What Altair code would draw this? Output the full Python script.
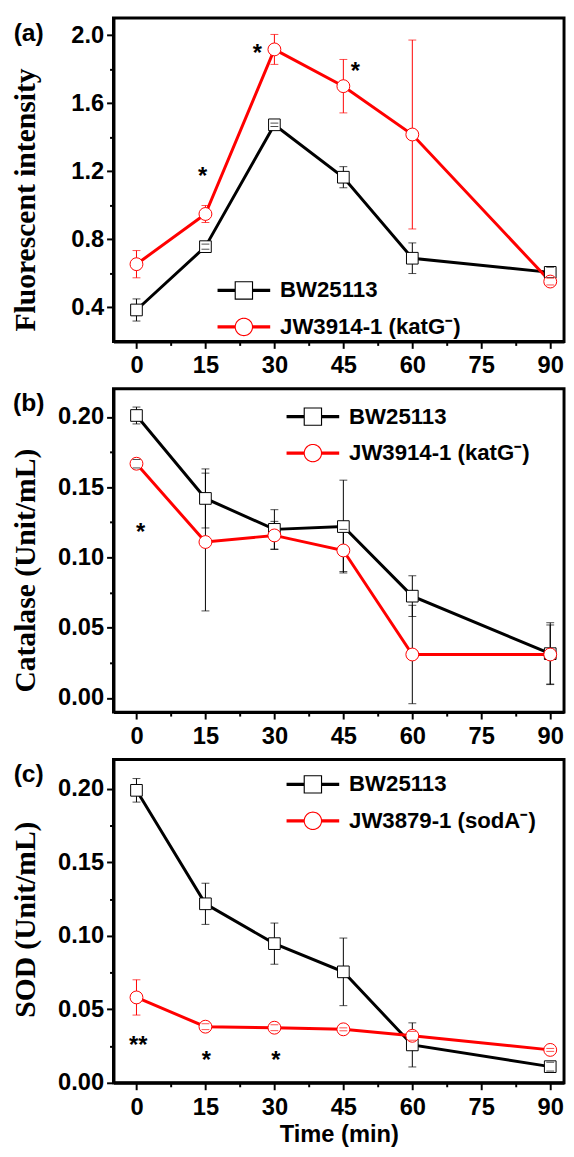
import json
import numpy as np
import pandas as pd
import altair as alt

# ---------------- data ----------------
time_min = [0, 15, 30, 45, 60, 90]

names_a = ["BW25113", "JW3914-1 (katG⁻)"]
names_b = ["BW25113", "JW3914-1 (katG⁻)"]
names_c = ["BW25113", "JW3879-1 (sodA⁻)"]

# (a) Fluorescent intensity
a_bw = [0.385, 0.757, 1.473, 1.165, 0.689, 0.606]
a_bw_err = [0.065, 0.015, 0.010, 0.062, 0.090, 0.030]
a_jw = [0.654, 0.949, 1.916, 1.700, 1.416, 0.552]
a_jw_err = [0.080, 0.050, 0.088, 0.157, 0.555, 0.020]

# (b) Catalase (Unit/mL)
b_bw = [0.201, 0.142, 0.120, 0.122, 0.0725, 0.0316]
b_bw_err = [0.006, 0.021, 0.014, 0.033, 0.0145, 0.022]
b_jw = [0.1667, 0.111, 0.1157, 0.105, 0.031, 0.031]
b_jw_err = [0.003, 0.049, 0.010, 0.015, 0.035, 0.021]

# (c) SOD (Unit/mL)
c_bw = [0.199, 0.1218, 0.0947, 0.0755, 0.0258, 0.011]
c_bw_err = [0.008, 0.014, 0.014, 0.023, 0.015, 0.003]
c_jw = [0.0581, 0.0382, 0.0375, 0.0364, 0.032, 0.0224]
c_jw_err = [0.012, 0.002, 0.002, 0.001, 0.003, 0.001]

# significance marks
a_star_x = [14.4, 26.3, 47.6]
a_star_y = [1.175, 1.899, 1.793]
a_star_t = ["*", "*", "*"]
b_star_x = [0.9]
b_star_y = [0.1187]
b_star_t = ["*"]
c_star_x = [0.4, 15.2, 30.3]
c_star_y = [0.0264, 0.0163, 0.0163]
c_star_t = ["**", "*", "*"]

# axis ticks
x_major = [0, 15, 30, 45, 60, 75, 90]
x_minor = [7.5, 22.5, 37.5, 52.5, 67.5, 82.5]
a_major = [0.4, 0.8, 1.2, 1.6, 2.0]
a_minor = [0.6, 1.0, 1.4, 1.8]
bc_major = [0.0, 0.05, 0.1, 0.15, 0.2]
bc_minor = [0.025, 0.075, 0.125, 0.175]

panel_labels = ["(a)", "(b)", "(c)"]
y_titles = ["Fluorescent intensity", "Catalase (Unit/mL)", "SOD (Unit/mL)"]
x_title = "Time (min)"

# ---------------- styling ----------------
SANS = "Liberation Sans"
SERIF = "Liberation Serif"
RED = "#ff0000"
W, H = 457, 328

# legend symbols: line through a hollow marker, drawn as filled path (unit = 9.5 px)
u = 9.5
L, h, a, b = 26.7 / u, 1.6 / u, 9.35 / u, 8.2 / u
f = lambda v: f"{v:.3f}"
left_bar = f"M{f(-L)},{f(-h)}H{f(-a*0.95)}V{f(h)}H{f(-L)}Z"
right_bar = f"M{f(a*0.95)},{f(-h)}H{f(L)}V{f(h)}H{f(a*0.95)}Z"
sq_path = (left_bar + " " + right_bar +
           f" M{f(-a)},{f(-a)}H{f(a)}V{f(a)}H{f(-a)}Z"
           f" M{f(-b)},{f(-b)}V{f(b)}H{f(b)}V{f(-b)}Z")
ang = np.linspace(0, 2 * np.pi, 49)[:-1]
outer = "M" + "L".join(f"{f(a*np.cos(t))},{f(a*np.sin(t))}" for t in ang) + "Z"
inner = "M" + "L".join(f"{f(b*np.cos(t))},{f(b*np.sin(t))}" for t in ang[::-1]) + "Z"
ci_path = left_bar + " " + right_bar + " " + outer + " " + inner


def x_enc(show_title):
    test = f"indexof({json.dumps(x_major)}, datum.value) < 0"
    return alt.X(
        "t:Q",
        scale=alt.Scale(domain=[-5, 93], nice=False, zero=False),
        axis=alt.Axis(
            values=sorted(x_major + x_minor),
            format="d",
            labelExpr=f"{test} ? '' : datum.label",
            tickSize={"condition": {"test": test, "value": 4}, "value": 7},
            labelOverlap=False,
            labelPadding=6,
            title=x_title if show_title else None,
            titleFont=SANS,
            titleFontSize=24,
            titleFontWeight="bold",
            titlePadding=4,
        ),
    )


def y_enc(field, dom, major, minor, fmt, title, title_y):
    test = f"indexof({json.dumps(major)}, datum.value) < 0"
    return alt.Y(
        f"{field}:Q",
        scale=alt.Scale(domain=dom, nice=False, zero=False),
        axis=alt.Axis(
            values=sorted(major + minor),
            format=fmt,
            labelExpr=f"{test} ? '' : datum.label",
            tickSize={"condition": {"test": test, "value": 4}, "value": 7},
            labelOverlap=False,
            labelPadding=3,
            title=title,
            titleFont=SERIF,
            titleFontSize=30,
            titleFontWeight="bold",
            titleX=-80,
            titleY=title_y,
            titleAlign="center",
            titleBaseline="alphabetic",
            titleAngle=270,
        ),
    )


def panel(idx, names, bw, bw_err, jw, jw_err, dom, major, minor, fmt, title_y,
          err_cols, sx, sy, st, leg_x, leg_y, show_xtitle):
    df = pd.DataFrame({
        "t": time_min * 2,
        "series": [names[0]] * 6 + [names[1]] * 6,
        "v": bw + jw,
        "e": bw_err + jw_err,
    })
    df["lo"] = df["v"] - df["e"]
    df["hi"] = df["v"] + df["e"]

    X = x_enc(show_xtitle)
    Y = lambda fld: y_enc(fld, dom, major, minor, fmt, y_titles[idx], title_y)

    layers = []
    # error bar stems
    for s, col in zip(names, err_cols):
        d = df[df["series"] == s]
        layers.append(alt.Chart(d).mark_rule(strokeWidth=1, color=col)
                      .encode(x=X, y=Y("lo"), y2="hi"))
    # lines
    for s, col in zip(names, ["black", RED]):
        d = df[df["series"] == s]
        layers.append(alt.Chart(d).mark_line(strokeWidth=3, color=col).encode(x=X, y=Y("v")))
    # markers
    for s, shp, col, size in zip(names, ["square", "circle"], ["black", RED], [140, 170]):
        d = df[df["series"] == s]
        layers.append(alt.Chart(d).mark_point(
            shape=shp, filled=True, fill="white", stroke=col, strokeWidth=1,
            size=size, opacity=1).encode(x=X, y=Y("v")))
    # error caps
    for s, col in zip(names, err_cols):
        d = df[df["series"] == s]
        caps = pd.DataFrame({"t": list(d["t"]) * 2, "cap": list(d["lo"]) + list(d["hi"])})
        layers.append(alt.Chart(caps).mark_tick(orient="horizontal", size=8, thickness=1,
                                                color=col).encode(x=X, y=Y("cap")))
    # legend carrier (invisible points; legend drawn with custom symbols)
    leg = dict(
        orient="none", legendX=leg_x, legendY=leg_y, title=None,
        labelFont=SANS, labelFontSize=22.5, labelFontWeight="bold",
        labelColor="black", labelLimit=0, labelOffset=25.5,
        rowPadding=14, padding=0, symbolSize=361, symbolStrokeWidth=0,
        symbolOpacity=1,
    )
    layers.append(alt.Chart(df).mark_point(filled=True, opacity=0).encode(
        x=X, y=Y("v"),
        color=alt.Color("series:N", scale=alt.Scale(domain=names, range=["black", RED]),
                        legend=alt.Legend(**leg)),
        shape=alt.Shape("series:N", scale=alt.Scale(domain=names, range=[sq_path, ci_path]),
                        legend=alt.Legend(**leg)),
    ))
    # significance asterisks
    stars = pd.DataFrame({"t": sx, "sy": sy, "txt": st})
    layers.append(alt.Chart(stars).mark_text(
        font=SANS, fontSize=24, fontWeight="bold", color="black",
        baseline="middle", align="center", dy=2).encode(x=X, y=Y("sy"), text="txt:N"))
    # panel label
    lab = pd.DataFrame({"lab": [panel_labels[idx]]})
    layers.append(alt.Chart(lab).mark_text(
        font=SANS, fontSize=25, fontWeight="bold", color="black",
        baseline="middle", align="center").encode(
        x=alt.value(-86), y=alt.value(15), text="lab:N"))

    return alt.layer(*layers).properties(width=W, height=H)


pa = panel(0, names_a, a_bw, a_bw_err, a_jw, a_jw_err, [0.2, 2.1], a_major, a_minor, ".1f",
           184, ["black", RED], a_star_x, a_star_y, a_star_t, 121, 265, False)
pb = panel(1, names_b, b_bw, b_bw_err, b_jw, b_jw_err, [-0.01, 0.22], bc_major, bc_minor, ".2f",
           184, ["black", "black"], b_star_x, b_star_y, b_star_t, 191, 17, False)
pc = panel(2, names_c, c_bw, c_bw_err, c_jw, c_jw_err, [0.0, 0.22], bc_major, bc_minor, ".2f",
           162, ["black", RED], c_star_x, c_star_y, c_star_t, 191, 14, True)

chart = (
    alt.vconcat(pa, pb, pc, spacing=48, bounds="flush")
    .resolve_scale(color="independent", shape="independent")
    .properties(padding={"left": 1, "top": 0, "right": 0, "bottom": 0}, background="white")
    .configure_view(stroke="black", strokeWidth=3)
    .configure_axis(
        domainColor="black", domainWidth=3, tickColor="black", tickWidth=2,
        labelColor="black", labelFont=SANS, labelFontSize=24, labelFontWeight="bold",
        titleColor="black", grid=False,
    )
)

chart.save("out.html", embed_options={"renderer": "svg", "actions": False})
